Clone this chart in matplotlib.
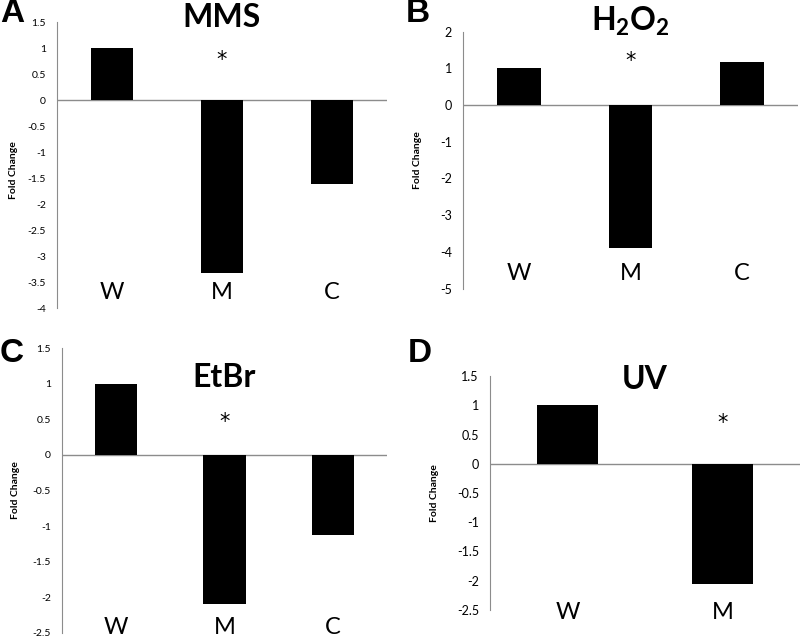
import matplotlib
matplotlib.use('Agg')
import matplotlib.pyplot as plt
import numpy as np

plt.rcParams['font.family'] = ['Lato', 'DejaVu Sans']
plt.rcParams['mathtext.fontset'] = 'custom'
plt.rcParams['mathtext.rm'] = 'Lato:bold'
plt.rcParams['mathtext.bf'] = 'Lato:bold'

# Data
cats_3 = ['W', 'M', 'C']
cats_2 = ['W', 'M']
mms_vals = [1.0, -3.33, -1.62]
h2o2_vals = [1.0, -3.9, 1.16]
etbr_vals = [1.0, -2.09, -1.12]
uv_vals = [1.0, -2.06]

W, H = 800, 639
fig = plt.figure(figsize=(W / 100, H / 100), dpi=100)


def px_axes(left, right, top, bottom):
    return fig.add_axes([left / W, 1 - bottom / H, (right - left) / W, (bottom - top) / H])


def draw_panel(ax, cats, vals, ylim, step, title, title_y, star_y, label_y, tick_size):
    x = np.arange(len(cats))
    ax.bar(x, vals, width=0.39, color='black', zorder=3)
    ax.set_xlim(-0.5, len(cats) - 0.5)
    ax.set_ylim(*ylim)
    ticks = np.arange(ylim[0], ylim[1] + step / 2, step)
    ax.set_yticks(ticks)
    ax.set_yticklabels([f'{t:g}' for t in ticks], fontsize=tick_size)
    ax.tick_params(axis='y', length=0, pad=8)
    ax.set_xticks([])
    for s in ['top', 'right', 'bottom']:
        ax.spines[s].set_visible(False)
    ax.spines['left'].set_color('#8c8c8c')
    ax.axhline(0, color='#8c8c8c', lw=1, zorder=2)
    for xi, c in zip(x, cats):
        ax.text(xi, label_y, c, ha='center', va='center', fontsize=17)
    # significance star over M
    ax.text(x[1], star_y, '*', ha='center', va='center', fontsize=15,
            family=['DejaVu Sans'])
    ax.text(0.5, title_y, title, transform=ax.transAxes, ha='center', va='center',
            fontsize=23, fontweight='bold')


axA = px_axes(57, 387, 22, 308)
draw_panel(axA, cats_3, mms_vals, (-4, 1.5), 0.5, 'MMS', 1.017, 0.77, -3.71, 7.5)

axB = px_axes(463, 798, 31.6, 288.5)
draw_panel(axB, cats_3, h2o2_vals, (-5, 2), 1, r'$\mathrm{H_2O_2}$', 1.04, 1.2, -4.6, 9)

axC = px_axes(62, 387, 348, 633)
draw_panel(axC, cats_3, etbr_vals, (-2.5, 1.5), 0.5, 'EtBr', 0.895, 0.46, -2.42, 7.5)

axD = px_axes(490, 800, 376, 610)
draw_panel(axD, cats_2, uv_vals, (-2.5, 1.5), 0.5, 'UV', 0.983, 0.7, -2.54, 9)

# panel letters
for lx, ly, letter in [(0, 14, 'A'), (406, 14, 'B'), (0, 353, 'C'), (408, 353, 'D')]:
    fig.text(lx / W, 1 - ly / H, letter, ha='left', va='center', fontsize=24,
             fontweight='bold', family=['Liberation Sans', 'DejaVu Sans'])

# y-axis labels
for lx, ly in [(13, 170), (418, 160), (15, 490), (435, 493)]:
    fig.text(lx / W, 1 - ly / H, 'Fold Change', rotation=90, ha='center', va='center',
             fontsize=7.5, fontweight='bold')

fig.savefig('out.png', dpi=100)
